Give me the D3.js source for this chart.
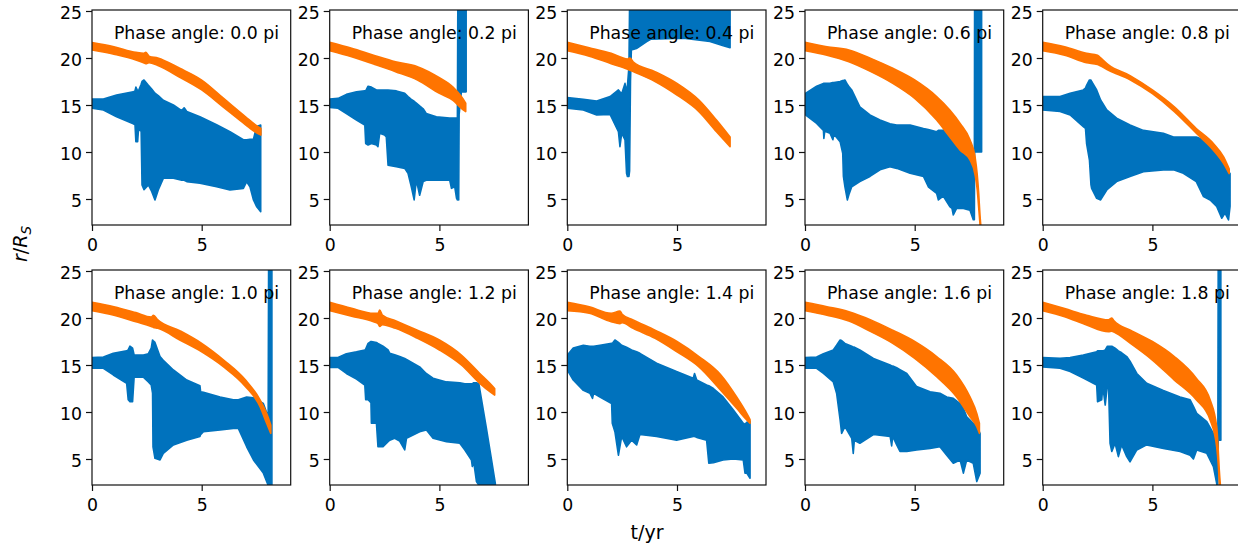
<!DOCTYPE html>
<html><head><meta charset="utf-8">
<script src="https://cdn.jsdelivr.net/npm/d3@7"></script>
<style>body{margin:0;background:#fff;overflow:hidden} text{font-family:"DejaVu Sans",sans-serif;fill:#000}</style>
</head><body><svg id="c" width="1238" height="548"></svg>
<script>
// ---------- data ----------
const phaseLabels = ["Phase angle: 0.0 pi","Phase angle: 0.2 pi","Phase angle: 0.4 pi","Phase angle: 0.6 pi","Phase angle: 0.8 pi",
                     "Phase angle: 1.0 pi","Phase angle: 1.2 pi","Phase angle: 1.4 pi","Phase angle: 1.6 pi","Phase angle: 1.8 pi"];
const xTicks = [0, 5];
const yTicks = [5, 10, 15, 20, 25];
const xLabel = "t/yr";

// each band: [t (yr), lower envelope r/Rs, upper envelope r/Rs]
const orange0 = [[0,20.85,21.65],[1,20.4,21.2],[2,19.8,20.6],[2.35,19.5,20.5],[2.45,19.4,20.6],[2.6,19.5,20.2],[3,19.2,20.0],[4,17.95,18.9],[5,16.6,17.65],[6,14.75,15.7],[7,12.9,13.75],[7.5,12.05,12.8],[7.7,11.8,12.5]];
const blue0 = [[0,14.65,15.64],[0.52,14.47,15.64],[1.12,13.75,16.06],[1.88,13.0,16.4],[1.96,12.9,16.5],[2.0,11.1,16.9],[2.08,11.1,16.5],[2.12,12.4,16.5],[2.24,12.2,17.2],[2.28,6.5,17.5],[2.37,6.0,17.66],[2.57,6.5,17.1],[2.72,5.8,16.7],[2.87,4.9,16.25],[3.02,5.96,16.0],[3.25,7.2,15.5],[3.71,7.2,15.0],[4.09,7.0,14.4],[4.2,7.0,14.7],[4.32,6.85,14.3],[4.92,6.67,13.75],[5.68,6.3,12.9],[6.29,5.96,12.16],[6.9,6.13,11.3],[7.05,6.84,11.3],[7.2,6.3,11.35],[7.36,4.9,11.35],[7.5,4.2,12.7],[7.69,3.65,12.87]];

const orange1 = [[0,20.78,21.67],[1,20.14,21.03],[2,19.36,20.3],[3,18.55,19.6],[4,17.66,19.08],[5,16.24,17.9],[5.62,15.5,16.9],[6.0,14.65,15.9],[6.2,14.3,15.2]];
const blue1 = [[0,14.75,15.64],[0.38,14.65,15.7],[0.76,14.1,16.13],[1.22,13.4,16.4],[1.6,12.87,16.5],[1.64,10.9,16.5],[1.75,10.74,17.0],[1.9,10.9,16.9],[2.13,10.74,16.6],[2.2,10.57,16.6],[2.28,12.0,16.6],[2.5,11.8,16.6],[2.58,11.6,16.6],[2.66,8.6,16.6],[3.04,8.44,16.5],[3.42,8.26,16.24],[3.57,7.73,15.9],[3.72,6.3,15.6],[3.85,4.9,15.4],[3.95,7.0,15.2],[4.1,5.4,14.9],[4.26,6.85,14.6],[4.4,7.0,14.1],[4.86,7.0,13.75],[5.47,7.0,13.6],[5.55,6.13,13.6],[5.7,6.3,13.6],[5.78,5.1,13.6],[5.82,4.9,13.6],[5.84,5.0,26],[5.88,4.9,26],[5.9,14.0,26],[6.0,16.4,26],[6.22,16.4,26]];

const orange2 = [[0,20.78,21.67],[1,20.2,21.1],[2,19.4,20.5],[2.75,18.8,19.9],[2.85,18.7,20.0],[3,18.55,19.6],[4,17.5,18.55],[5,16.06,17.3],[6,14.3,15.53],[6.8,12.16,13.4],[7.42,10.57,11.6]];
const blue2 = [[0,14.65,15.8],[0.73,14.47,15.6],[1.34,13.94,15.43],[1.95,14.0,15.9],[2.33,12.16,16.6],[2.4,10.57,16.4],[2.48,12.0,16.2],[2.63,11.3,17.3],[2.7,7.73,16.5],[2.74,7.4,17.0],[2.81,7.4,19.1],[2.84,8.0,26],[2.88,17.5,26],[2.92,20.85,26],[3.15,21.0,26],[3.62,21.75,26],[3.8,22.0,26],[5.29,22.1,26],[6.5,21.75,26],[7.11,21.3,26],[7.42,21.1,26]];

const orange3 = [[0,20.78,21.67],[1,20.3,21.2],[2,19.6,20.85],[3,18.55,19.96],[4,17.3,18.9],[5,15.7,17.66],[6,13.4,15.9],[6.6,11.6,14.47],[7.07,10.2,13.05],[7.52,9.15,11.3],[7.75,7.6,9.5],[7.85,6.0,7.6],[7.92,4.0,5.5],[7.97,2.5,3.5],[8.02,1.0,2.0]];
const blue3 = [[0,14.0,16.2],[0.53,13.05,17.0],[0.84,12.3,17.3],[0.86,11.45,17.3],[0.9,12.2,17.3],[1.14,12.0,17.3],[1.27,11.3,17.4],[1.32,11.9,17.4],[1.6,11.1,17.5],[1.72,9.85,17.6],[1.75,7.4,17.6],[1.82,6.3,17.66],[1.93,4.9,17.2],[2.02,5.6,16.9],[2.13,6.3,16.6],[2.5,6.85,14.8],[2.96,7.4,13.94],[3.42,8.1,13.4],[3.87,8.44,13.0],[4.18,8.26,12.87],[4.79,7.73,12.87],[5.4,7.4,12.5],[5.62,6.3,12.4],[6.0,5.6,12.16],[6.08,4.9,12.3],[6.3,5.3,12.3],[6.6,4.2,12.5],[6.7,4.0,12.7],[6.76,3.3,12.0],[6.91,4.0,10.9],[7.22,4.0,9.85],[7.52,3.8,9.15],[7.67,2.8,8.9],[7.72,2.8,8.7],[7.73,10.0,26],[8.05,10.0,26]];

const orange4 = [[0,20.78,21.67],[1,20.3,21.2],[2,19.5,20.5],[2.5,19.3,20.3],[2.6,19.2,20.1],[3,18.7,19.26],[4,17.66,18.1],[5,16.2,16.6],[6,14.3,14.8],[7,12.0,12.5],[7.78,10.2,10.9],[8.24,8.8,9.5],[8.5,7.7,8.2]];
const blue4 = [[0,14.47,15.9],[0.79,14.3,15.9],[1.25,13.94,16.24],[1.85,12.7,16.6],[1.95,12.5,16.8],[2.0,10.9,17.1],[2.13,9.15,17.66],[2.2,6.5,17.66],[2.23,6.13,17.5],[2.46,5.07,16.6],[2.64,4.9,15.53],[2.92,5.96,14.47],[3.37,6.85,13.6],[3.98,7.4,12.87],[4.59,7.9,12.3],[5.5,8.1,12.0],[5.96,8.1,11.6],[6.41,7.73,11.6],[7.0,6.84,11.6],[7.33,5.25,11.3],[7.63,4.9,10.9],[7.93,4.2,9.85],[8.16,2.95,9.3],[8.31,3.5,8.8],[8.47,2.77,7.9],[8.54,4.2,7.7]];

const orange5 = [[0,20.78,21.67],[1,20.3,21.2],[2,19.6,20.57],[2.7,19.1,20.1],[2.8,19.0,20.3],[3,18.9,19.8],[4,17.66,18.65],[5,16.4,17.3],[6,14.8,15.53],[7,12.7,13.4],[7.66,10.57,11.3],[7.96,8.8,9.85],[8.15,7.73,8.6]];
const blue5 = [[0,14.65,15.8],[0.52,14.65,15.85],[0.97,13.94,16.24],[1.58,13.05,16.5],[1.65,11.3,16.6],[1.73,11.1,17.0],[1.85,11.1,16.8],[1.92,13.7,16.06],[2.34,13.7,16.06],[2.57,13.2,16.2],[2.7,12.87,16.8],[2.76,12.0,17.66],[2.78,6.3,17.6],[2.87,5.07,17.4],[3.1,4.9,15.9],[3.25,5.6,15.5],[3.71,6.5,14.47],[4.32,7.0,13.4],[4.92,7.4,12.8],[4.95,7.6,12.16],[5.08,7.9,12.1],[5.84,8.1,11.6],[6.44,8.26,11.3],[6.67,8.26,11.3],[7.05,6.3,11.6],[7.36,4.9,11.5],[7.81,3.5,10.9],[8.03,2.2,9.5],[8.05,1.5,26],[8.2,1.5,26]];

const orange6 = [[0,20.78,21.67],[1,20.2,21.03],[2,19.6,20.5],[2.2,19.4,20.5],[2.28,19.1,20.85],[2.4,19.3,20.3],[3,18.9,19.7],[4,17.84,18.7],[5,16.6,17.66],[6,15.0,16.06],[6.84,13.05,14.1],[7.3,12.16,13.05],[7.52,11.8,12.5]];
const blue6 = [[0,14.75,15.8],[0.38,14.75,15.8],[0.76,14.1,16.2],[1.22,13.5,16.4],[1.6,12.87,16.6],[1.64,11.3,16.7],[1.75,11.3,17.3],[1.88,11.0,17.5],[1.9,8.8,17.5],[2.13,8.8,17.4],[2.2,6.3,17.3],[2.43,6.3,17.0],[2.66,6.85,16.6],[2.74,7.0,16.24],[2.96,7.2,16.1],[3.19,6.9,15.9],[3.42,5.96,15.7],[3.5,7.2,15.6],[4.1,7.9,14.8],[4.4,8.1,14.1],[4.71,7.2,13.6],[5.32,6.85,13.2],[5.93,6.67,13.1],[6.16,5.96,13.0],[6.46,4.9,13.0],[6.5,4.2,13.0],[6.55,4.9,13.1],[6.69,2.6,13.1],[6.8,2.2,13.0],[7.14,1.5,8.3],[7.37,1.5,5.0],[7.55,1.5,2.4]];

const orange7 = [[0,20.78,21.67],[1,20.5,21.2],[2,19.6,20.5],[2.4,19.4,20.75],[2.5,19.5,20.4],[3,18.9,19.8],[4,17.84,18.7],[5,16.4,17.5],[6,14.8,15.9],[7,12.3,13.94],[7.72,10.4,11.6],[8.18,9.15,9.85],[8.33,8.8,9.2]];
const blue7 = [[0,14.47,16.06],[0.27,13.4,16.8],[0.73,12.3,17.1],[1.03,12.0,17.0],[1.15,11.45,17.0],[1.2,12.0,17.0],[1.49,11.6,17.1],[2.02,10.9,17.3],[2.05,8.8,17.3],[2.17,7.9,17.66],[2.33,5.4,17.4],[2.48,7.4,17.1],[2.7,6.3,16.9],[2.93,7.0,16.6],[3.16,6.5,16.4],[3.31,7.6,16.24],[4.07,7.4,15.2],[4.98,7.0,14.3],[5.74,7.4,13.6],[5.8,7.4,14.1],[5.9,7.3,13.4],[6.35,7.0,12.87],[6.45,4.55,12.8],[6.66,4.6,12.5],[7.1,4.9,11.6],[7.57,5.0,10.2],[8.02,4.9,8.8],[8.1,3.5,8.7],[8.18,3.5,8.9],[8.33,2.95,9.0]];

const orange8 = [[0,20.78,21.67],[1,20.3,21.2],[2,19.68,20.67],[3,18.55,19.8],[4,17.3,18.7],[5,15.7,17.5],[6,13.75,15.9],[6.91,11.6,13.94],[7.52,9.5,11.6],[7.83,8.44,9.85],[7.95,7.73,8.8]];
const blue8 = [[0,14.65,15.8],[0.53,14.65,15.85],[0.84,14.1,16.2],[1.29,13.2,16.6],[1.44,12.0,17.1],[1.6,9.15,17.66],[1.67,7.73,17.6],[1.82,8.44,17.3],[2.13,7.2,17.0],[2.2,5.6,16.9],[2.25,7.0,16.9],[2.5,6.67,16.6],[3.12,7.6,15.7],[3.88,7.4,15.0],[3.95,6.4,14.9],[4.0,7.4,14.9],[4.18,6.5,14.7],[4.33,5.8,14.5],[4.64,5.8,14.1],[5.09,5.96,12.7],[5.7,6.13,12.16],[6.15,6.3,12.0],[6.46,5.4,11.6],[6.76,4.55,11.45],[7.07,4.9,10.9],[7.22,3.5,10.4],[7.37,4.9,9.5],[7.67,4.55,8.8],[7.83,2.6,8.6],[7.98,3.5,7.7]];

const orange9 = [[0,20.78,21.67],[1,20.14,21.0],[2,19.26,20.3],[3,18.55,19.8],[3.15,18.6,20.0],[3.25,18.5,19.7],[4,17.3,18.7],[5,15.53,17.5],[6,13.4,15.9],[7,11.3,13.6],[7.63,9.15,11.3],[7.93,6.3,8.44],[8.0,4.5,6.0],[8.05,2.5,3.8],[8.1,1.0,2.2]];
const blue9 = [[0,14.8,15.8],[0.79,14.65,15.7],[1.25,14.3,15.8],[1.85,13.6,16.06],[2.46,12.87,16.4],[2.5,11.1,16.5],[2.69,11.3,16.5],[2.74,12.7,16.5],[2.85,10.74,16.6],[2.95,12.9,17.0],[3.0,12.9,17.0],[3.07,6.67,17.0],[3.15,5.8,17.0],[3.3,6.67,16.8],[3.45,5.25,16.5],[3.6,6.5,16.3],[3.83,5.25,15.9],[3.98,4.7,15.4],[4.29,5.96,14.1],[4.74,6.5,13.05],[5.5,6.13,12.3],[6.26,5.8,11.6],[6.72,5.4,11.3],[6.87,5.0,10.6],[7.02,5.96,9.85],[7.48,5.6,8.97],[7.78,4.2,7.73],[7.93,2.4,6.3],[7.98,1.5,4.2],[8.0,7.0,26],[8.12,7.0,26]];

const blueSeries = [blue0,blue1,blue2,blue3,blue4,blue5,blue6,blue7,blue8,blue9];
const orangeSeries = [orange0,orange1,orange2,orange3,orange4,orange5,orange6,orange7,orange8,orange9];

// ---------- layout ----------
const BLUE = "#0072BD", ORANGE = "#FF7400";
const colLeft = [92, 329.7, 567.3, 805, 1042.7];
const rowTop = [10, 270];
const W = 198.7, H = 215;
const fs = 17.3;

const svg = d3.select("#c");
const x = d3.scaleLinear().domain([0, 9.057]).range([0, W]);
const y = d3.scaleLinear().domain([2.234, 25.106]).range([H, 0]);
const areaBlue = d3.area().x(d => x(d[0])).y0(d => y(d[1])).y1(d => y(d[2]));
const areaOrange = d3.area().curve(d3.curveMonotoneX).x(d => x(d[0])).y0(d => y(d[1])).y1(d => y(d[2]));

phaseLabels.forEach((lab, i) => {
  const r = Math.floor(i / 5), c = i % 5;
  const g = svg.append("g").attr("transform", `translate(${colLeft[c]},${rowTop[r]})`);
  const cid = "clip" + i;
  g.append("clipPath").attr("id", cid).append("rect").attr("width", W).attr("height", H);
  const pg = g.append("g").attr("clip-path", `url(#${cid})`);
  pg.append("path").datum(blueSeries[i]).attr("d", areaBlue)
    .attr("fill", BLUE).attr("stroke", BLUE).attr("stroke-width", 1.6).attr("stroke-linejoin", "round");
  pg.append("path").datum(orangeSeries[i]).attr("d", areaOrange)
    .attr("fill", ORANGE).attr("stroke", ORANGE).attr("stroke-width", 1.6).attr("stroke-linejoin", "round");

  g.append("text").attr("x", x(1)).attr("y", y(22)).attr("font-size", fs).text(lab);

  g.append("rect").attr("width", W).attr("height", H).attr("fill", "none")
    .attr("stroke", "#111").attr("stroke-width", 1.2);

  const ya = g.append("g").call(d3.axisLeft(y).tickValues(yTicks).tickSize(6).tickPadding(4).tickFormat(d3.format("d")));
  const xa = g.append("g").attr("transform", `translate(0,${H})`)
    .call(d3.axisBottom(x).tickValues(xTicks).tickSize(6).tickPadding(7.4).tickFormat(d3.format("d")));
  [ya, xa].forEach(a => {
    a.select(".domain").remove();
    a.selectAll("line").attr("stroke", "#111").attr("stroke-width", 1.2);
    a.selectAll("text").attr("font-size", fs).attr("font-family", "DejaVu Sans").attr("fill", "#000");
  });
  ya.selectAll("text").attr("dy", "0.42em");
});

svg.append("text").attr("x", 647).attr("y", 539).attr("text-anchor", "middle")
  .attr("font-size", 19).text(xLabel);

const yl = svg.append("text").attr("transform", "translate(27,244) rotate(-90)")
  .attr("text-anchor", "middle").attr("font-size", 19);
yl.append("tspan").attr("font-style", "italic").text("r");
yl.append("tspan").text("/");
yl.append("tspan").attr("font-style", "italic").text("R");
yl.append("tspan").attr("font-style", "italic").attr("font-size", 13.5).attr("dy", 4).text("S");
</script></body></html>
